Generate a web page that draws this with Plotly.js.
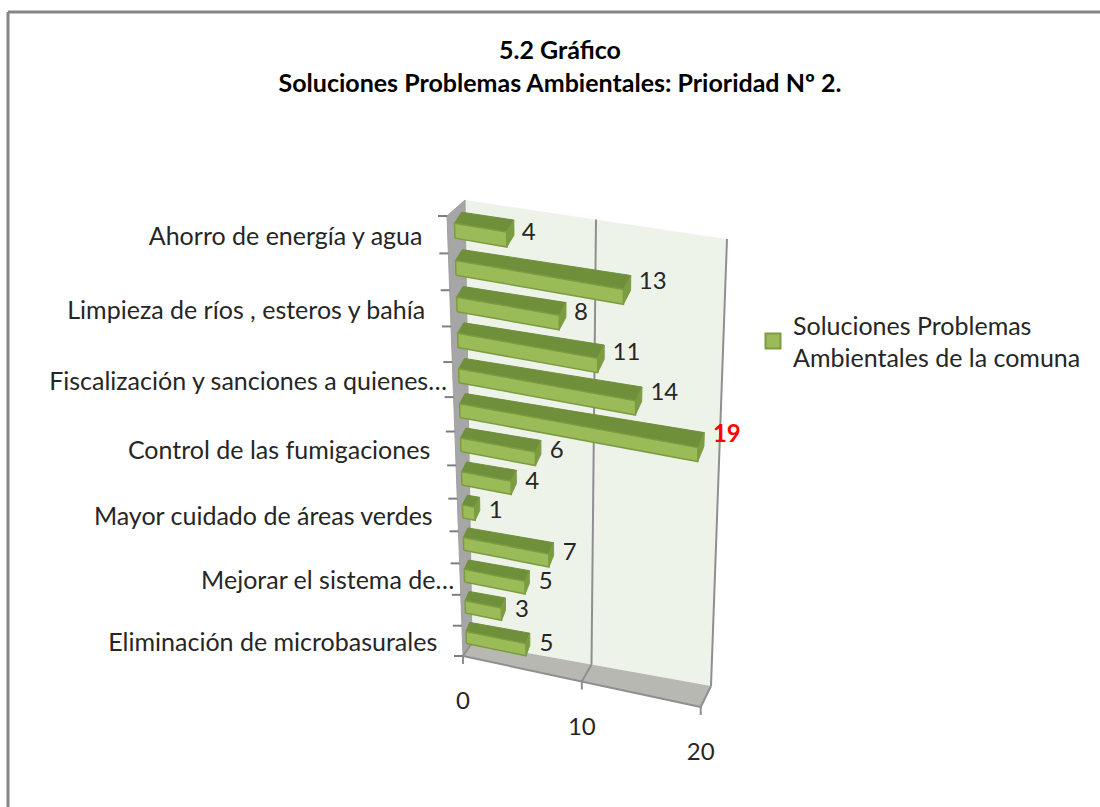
<!DOCTYPE html>
<html><head><meta charset="utf-8">
<script src="https://cdn.plot.ly/plotly-3.0.1.min.js"></script>
<style>html,body{margin:0;padding:0;background:#fff}#c{width:1100px;height:807px}</style>
</head><body><div id="c"></div>
<script>
// --- data (top to bottom); unlabelled categories are hidden in the reference
const NB = '\u00a0';
const categories = [
  'Ahorro de energía y agua' + NB.repeat(3), '',
  'Limpieza de ríos , esteros y bahía' + NB.repeat(3), '',
  'Fiscalización y sanciones a quienes…', '',
  'Control de las fumigaciones' + NB.repeat(3), '',
  'Mayor cuidado de áreas verdes' + NB.repeat(3), '',
  'Mejorar el sistema de…', '',
  'Eliminación de microbasurales' + NB.repeat(3)
];
const values = [4, 13, 8, 11, 14, 19, 6, 4, 1, 7, 5, 3, 5];
const valueTicks = [0, 10, 20];
const seriesName = 'Soluciones Problemas<br>Ambientales de la comuna';
const titleText = '5.2 Gráfico<br>Soluciones Problemas Ambientales: Prioridad Nº 2.';
const FONT = 'Lato, Carlito, sans-serif';

// --- oblique projection of the 3-D box: value, category position, depth
const VMAX = 20, N = values.length;
const box = {
  front: {bl:[463,656], br:[700.7,707], tl:[447,216], tr:[707,262]},
  back:  {bl:[472,643], br:[711,686],  tl:[465,200], tr:[727,239]}
};
const lerp = (a,b,t) => a + (b-a)*t;
function plane(p, k, t, s){ return lerp(lerp(p.bl[k],p.br[k],t), lerp(p.tl[k],p.tr[k],t), s); }
function project(v, c, dx, dy){
  const t = v/VMAX, u = c/N, s = 0.886*u + 0.114*u*u;
  return [lerp(plane(box.front,0,t,s), plane(box.back,0,t,s), dx),
          lerp(plane(box.front,1,t,s), plane(box.back,1,t,s), dy === undefined ? dx : dy)];
}
function poly(points){
  const xs=[], ys=[];
  points.forEach(p=>{xs.push(p[0]);ys.push(p[1]);});
  xs.push(points[0][0]); ys.push(points[0][1]);
  return {x:xs, y:ys};
}
function merge(list){
  const xs=[], ys=[];
  list.forEach((p,i)=>{ if(i){xs.push(null);ys.push(null);} xs.push(...p.x); ys.push(...p.y); });
  return {x:xs, y:ys};
}
function fillTrace(p, color, edge, ew){
  return {x:p.x, y:p.y, type:'scatter', mode:'lines', fill:'toself', fillcolor:color,
          line:{color:edge||color, width:ew===undefined?1:ew}, hoverinfo:'skip', showlegend:false};
}
function lineTrace(a, b, color, w){
  return {x:[a[0],b[0]], y:[a[1],b[1]], type:'scatter', mode:'lines',
          line:{color:color, width:w}, hoverinfo:'skip', showlegend:false};
}

const traces = [];
const GRID = '#8f8f8f';
// walls and floor
traces.push(fillTrace(poly([project(0,0,1),project(VMAX,0,1),project(VMAX,N,1),project(0,N,1)]), '#eef3ea', '#eef3ea', 0));
traces.push(fillTrace(poly([project(0,0,0),project(0,0,1),project(0,N,1),project(0,N,0)]), '#a6a6a6', '#a0a0a0', 1));
traces.push(fillTrace(poly([project(0,0,0),project(VMAX,0,0),project(VMAX,0,1),project(0,0,1)]), '#b6b8b1', '#b6b8b1', 0));
// gridlines, floor edges and value ticks
valueTicks.forEach(v=>{
  if(v>0) traces.push(lineTrace(project(v,N,1), project(v,0,1), GRID, 2));
  traces.push(lineTrace(project(v,0,0), project(v,0,1), GRID, 2));
  const f = project(v,0,0);
  traces.push(lineTrace(f, [f[0], f[1]+8], GRID, 2));
});
traces.push(lineTrace(project(0,0,0), project(VMAX,0,0), GRID, 2));
// category ticks
for(let c=0;c<=N;c++){
  const p = project(0,c,0);
  traces.push(lineTrace([p[0]-9,p[1]], p, '#7f7f7f', 2));
}
// bars
const H = 0.2, DX1 = 0.4, DX2 = 0.8, DY1 = 0.26, DY2 = 0.95;
const fronts=[], tops=[], sides=[];
values.forEach((v,i)=>{
  const c = N - 0.5 - i;
  const P = (val,cc,back)=> back ? project(val,cc,DX2,DY2) : project(val,cc,DX1,DY1);
  fronts.push(poly([P(0,c-H),P(v,c-H),P(v,c+H),P(0,c+H)]));
  tops.push(poly([P(0,c+H),P(v,c+H),P(v,c+H,1),P(0,c+H,1)]));
  sides.push(poly([P(v,c-H),P(v,c+H),P(v,c+H,1),P(v,c-H,1)]));
});
traces.push(fillTrace(merge(tops), '#6f8f3b', '#6f8f3b', 1));
traces.push(fillTrace(merge(sides), '#7c9c41', '#7c9c41', 1));
traces.push(fillTrace(merge(fronts), '#9bbb59', '#7c9c41', 1.5));

// value labels
const maxV = Math.max(...values);
const lblX = values.map((v,i)=>project(v, N-0.5-i, 1)[0] + 8 - 4*(N-0.5-i)/N);
const lblY = values.map((v,i)=>project(0.67*v, N-0.5-i, 1)[1] + 10);
traces.push({x:lblX, y:lblY, type:'scatter', mode:'text',
  text:values.map(String), textposition:'middle right', hoverinfo:'skip', showlegend:false,
  textfont:{family:FONT, size:24,
            color:values.map(v=>v===maxV?'#ff0000':'#262626'),
            weight:values.map(v=>v===maxV?700:400)}});
// category labels
const catPts = categories.map((_,i)=>project(0, N-0.5-i, 0));
traces.push({x:catPts.map(p=>p[0]-6), y:catPts.map(p=>p[1]+4), type:'scatter', mode:'text',
  text:categories, textposition:'middle left', hoverinfo:'skip', showlegend:false,
  textfont:{family:FONT, size:25, color:'#262626'}});
// value tick labels
const tickPts = valueTicks.map(v=>project(v,0,0));
traces.push({x:tickPts.map(p=>p[0]), y:tickPts.map(p=>p[1]+47), type:'scatter', mode:'text',
  text:valueTicks.map(String), textposition:'middle center', hoverinfo:'skip', showlegend:false,
  textfont:{family:FONT, size:24, color:'#262626'}});
// legend entry
traces.push({x:[null], y:[null], type:'scatter', mode:'markers', name:seriesName, hoverinfo:'skip',
  marker:{symbol:'square', size:15, color:'#9bbb59', line:{color:'#7c9c41', width:2}}, showlegend:true});

const layout = {
  width:1100, height:807, margin:{l:0,r:0,t:0,b:0}, paper_bgcolor:'#fff', plot_bgcolor:'#fff',
  xaxis:{range:[0,1100], visible:false, fixedrange:true},
  yaxis:{range:[807,0], visible:false, fixedrange:true},
  title:{text:titleText, x:560/1100, xanchor:'center', y:1-59/807, yanchor:'top',
         font:{family:FONT, size:25, color:'#000', weight:700}},
  legend:{x:753/1100, y:1-302/807, xanchor:'left', yanchor:'top', bgcolor:'rgba(0,0,0,0)',
          font:{family:FONT, size:25, color:'#262626'}, itemwidth:30},
  shapes:[
    {type:'line', xref:'paper', yref:'paper', x0:8/1100, x1:1, y0:1-12/807, y1:1-12/807, line:{color:'#868686', width:3}},
    {type:'line', xref:'paper', yref:'paper', x0:8/1100, x1:8/1100, y0:1-12/807, y1:0, line:{color:'#868686', width:3}}
  ]
};
Plotly.newPlot('c', traces, layout, {displayModeBar:false, staticPlot:true});
</script></body></html>
